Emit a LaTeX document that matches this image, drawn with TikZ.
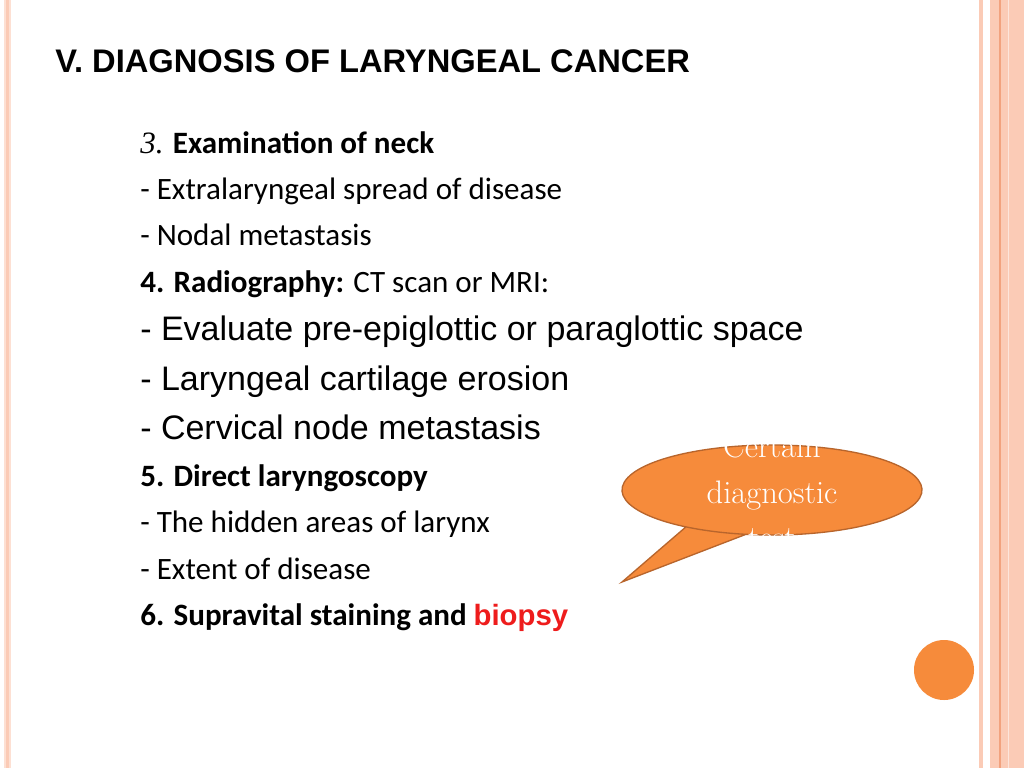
\documentclass[tikz,border=0pt]{standalone}
\usepackage{fontspec}
\setmainfont{Carlito}
\newfontfamily\arialf{Liberation Sans}
\newfontfamily\timesf{Liberation Serif}
\newfontfamily\lmr{Latin Modern Roman}
\definecolor{pinkb}{HTML}{FBCBB6}
\definecolor{pinkd}{HTML}{F2A27E}
\definecolor{orng}{HTML}{F68B3B}
\definecolor{orngd}{HTML}{B8652C}
\definecolor{redt}{HTML}{EE1C1C}
\tikzset{body/.style={anchor=base west,inner sep=0pt,font=\fontsize{23.3}{28}\selectfont},
big/.style={anchor=base west,inner sep=0pt,font=\arialf\fontsize{25.5}{30}\selectfont}}
\begin{document}
\begin{tikzpicture}[x=0.75pt,y=-0.75pt]
\useasboundingbox (0,0) rectangle (1024,768);
\fill[white] (0,0) rectangle (1024,768);
\fill[pinkb!60] (4,0) rectangle (11,768);
\fill[pinkb] (6,0) rectangle (9,768);
\fill[pinkb] (979,0) rectangle (983,768);
\fill[pinkb] (990,0) rectangle (1024,768);
\fill[pinkd] (999,0) rectangle (1000.5,768);
\fill[pinkb!50] (1008,0) rectangle (1009,768);
\node[anchor=base west,inner sep=0pt,font=\arialf\bfseries\fontsize{24.5}{29}\selectfont] (title) at (55,72) {V. DIAGNOSIS OF LARYNGEAL CANCER};
\node[body] (l1) at (140,153) {{\timesf\itshape 3.} \textbf{Examination of neck}};
\node[body] (l2) at (140,199) {- Extralaryngeal spread of disease};
\node[body] (l3) at (140,245) {- Nodal metastasis};
\node[body] (l4) at (140,292) {\textbf{4. Radiography:} CT scan or MRI:};
\node[big] (l5) at (140,340) {- Evaluate pre-epiglottic or paraglottic space};
\node[big] (l6) at (140,390) {- Laryngeal cartilage erosion};
\node[big] (l7) at (140,439) {- Cervical node metastasis};
\node[body] (l8) at (140,486) {\textbf{5. Direct laryngoscopy}};
\node[body] (l9) at (140,532) {- The hidden areas of larynx};
\node[body] (l10) at (140,579) {- Extent of disease};
\node[body] (l11) at (140,625) {\textbf{6. Supravital staining and \textcolor{redt}{\arialf\fontsize{22}{26}\selectfont biopsy}}};
\draw[fill=orng,draw=orngd,line width=1pt] (622,582) -- ([shift={(772,490)}]100:150 and 45) arc[start angle=100,end angle=485,x radius=150,y radius=45] -- cycle;
\node[inner sep=0pt,align=center,text=white,font=\lmr\fontsize{24.4}{34}\selectfont] (call) at (772,492) {Certain\\diagnostic\\test};
\fill[orng] (944,670) circle[radius=30];
\end{tikzpicture}
\end{document}
